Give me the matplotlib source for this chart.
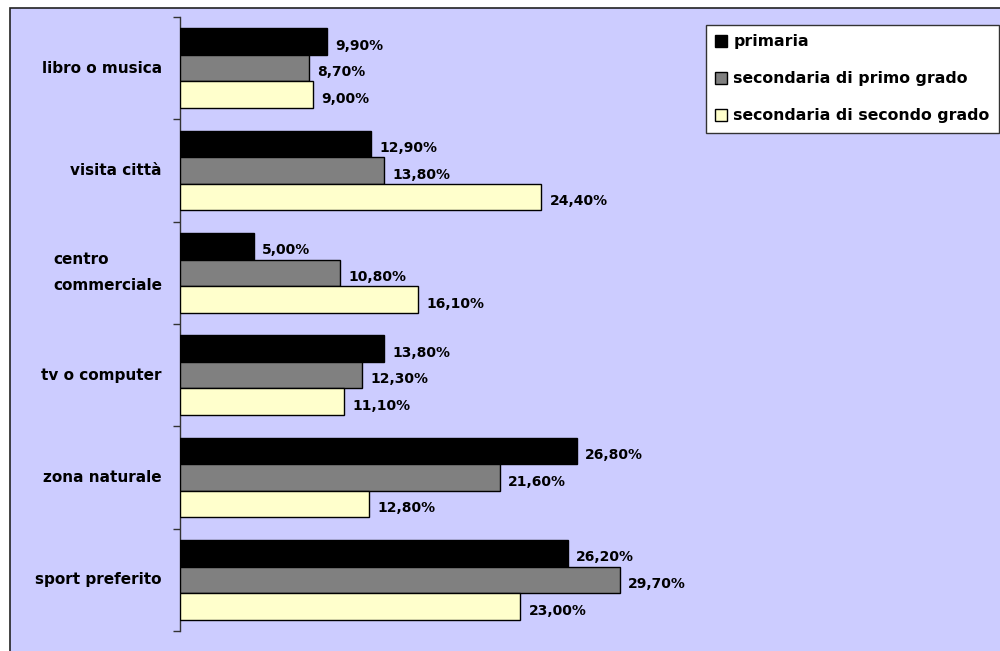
import matplotlib
matplotlib.use("Agg")
import matplotlib.pyplot as plt
from matplotlib.patches import Rectangle, Patch
import numpy as np

# categories from top to bottom
categories = ["libro o musica", "visita città", "centro\ncommerciale",
              "tv o computer", "zona naturale", "sport preferito"]
series_names = ["primaria", "secondaria di primo grado", "secondaria di secondo grado"]
primaria = [9.9, 12.9, 5.0, 13.8, 26.8, 26.2]
secondaria_1 = [8.7, 13.8, 10.8, 12.3, 21.6, 29.7]
secondaria_2 = [9.0, 24.4, 16.1, 11.1, 12.8, 23.0]
series_values = [primaria, secondaria_1, secondaria_2]
colors = ["#000000", "#808080", "#FFFFCC"]
bg = "#CCCCFF"

fig = plt.figure(figsize=(10, 6.51), dpi=100)
fig.patch.set_facecolor("white")

# lavender chart area with a dark border
fig.add_artist(Rectangle((0.010, -0.01), 1.0, 1 - 8 / 651 + 0.01,
                         transform=fig.transFigure, facecolor=bg,
                         edgecolor="#222222", linewidth=1.2, zorder=0))

ax = fig.add_axes([0.18, 1 - 631 / 651, 0.82, (631 - 17) / 651])
ax.set_facecolor("none")

n = len(categories)
pos = np.arange(n)[::-1]  # first category on top
h = 0.26
for i, (vals, col) in enumerate(zip(series_values, colors)):
    y = pos + (1 - i) * h
    ax.barh(y, vals, height=h, color=col, edgecolor="black", linewidth=1,
            label=series_names[i], zorder=3)
    for yy, v in zip(y, vals):
        ax.annotate(f"{v:.2f}".replace(".", ",") + "%", (v, yy),
                    xytext=(6, -3), textcoords="offset points",
                    ha="left", va="center", fontsize=10, fontweight="bold")

ax.set_xlim(0, 820 / 14.8)
ax.set_ylim(-0.5, n - 0.5)

for s in ["top", "right", "bottom"]:
    ax.spines[s].set_visible(False)
ax.spines["left"].set_color("#333333")
ax.spines["left"].set_linewidth(1)
ax.set_xticks([])

ax.set_yticks(np.arange(-0.5, n, 1.0))
ax.set_yticklabels([])
ax.tick_params(axis="y", which="major", length=5, width=1, color="#333333")
ax.set_yticks(pos, minor=True)
ax.set_yticklabels(categories, minor=True, fontsize=11, fontweight="bold",
                   multialignment="left", linespacing=1.9, va="center")
ax.tick_params(axis="y", which="minor", length=0, pad=13)

handles = [Patch(facecolor=c, edgecolor="black", linewidth=1) for c in colors]
leg = ax.legend(handles, series_names, loc="upper right",
                bbox_to_anchor=(999 / 1000, 1 - 25 / 651),
                bbox_transform=fig.transFigure,
                prop={"size": 11.3, "weight": "bold"},
                frameon=True, fancybox=False, framealpha=1,
                handlelength=0.75, handleheight=0.75, handletextpad=0.4,
                labelspacing=1.4, borderpad=0.6, borderaxespad=0)
leg.get_frame().set_edgecolor("#333333")
leg.get_frame().set_linewidth(1)

fig.savefig("out.png", dpi=100, facecolor=fig.get_facecolor())
